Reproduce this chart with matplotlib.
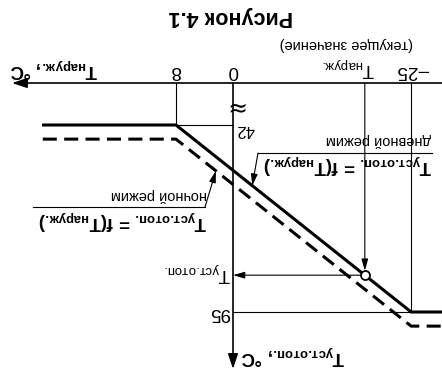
import numpy as np
import matplotlib
matplotlib.use('Agg')
import matplotlib.pyplot as plt
from matplotlib import font_manager as fm
from matplotlib.lines import Line2D

# ---------------- data ----------------
t_out_day = [26.8, 8, -25, -29.4]        # outdoor temperature, °C
t_set_day = [42, 42, 95, 95]             # heating set-point, day mode
t_out_night = [26.7, 8, -25, -29.4]
t_set_night = [46, 46, 99, 99]           # heating set-point, night mode
x_ticks = [8, 0, -25]
x_tick_labels = ['8', '0', '–25']
y_ticks = [42, 95]
y_tick_labels = ['42', '95']
t_out_current = -18.5
t_day_pointer = -2.7
t_night_pointer = 2.4


def pick(names):
    for n in names:
        try:
            fm.findfont(fm.FontProperties(family=n), fallback_to_default=False)
            return n
        except Exception:
            pass
    return 'DejaVu Sans'


FONT = pick(['Liberation Sans Narrow', 'Liberation Sans', 'Arial'])
WIDE = pick(['Liberation Sans', 'Arial'])
plt.rcParams['font.family'] = [FONT, 'DejaVu Sans']
plt.rcParams['mathtext.default'] = 'regular'

W, H = 442, 374
fig = plt.figure(figsize=(W / 100, H / 100), dpi=100)
ax = fig.add_axes([0, 0, 1, 1])
ax.set_axis_off()

# scales (the reference is drawn rotated by 180 degrees)
X0, SX = 233, 57 / 8
Y42, SY = 125, 187 / 53
x_left = X0 / SX
x_right = -(W - X0) / SX
ax.set_xlim(x_left, x_right)
ax.set_ylim(42 + (H - Y42) / SY, 42 - Y42 / SY)

y_axis_val = 42 - (Y42 - 83) / SY      # level of the horizontal axis
x_tip = (X0 - 12) / SX                 # arrow tip of T axis
y_tip = 42 + (369 - Y42) / SY          # arrow tip of set-point axis
y_ticklab = 42 - (Y42 - 70) / SY


def F(px, py):
    return (px / W, 1 - py / H)


k = 'black'
axis_arrow = dict(arrowstyle='-|>,head_length=0.45,head_width=0.15',
                  color=k, lw=1.2, shrinkA=0, shrinkB=0, mutation_scale=20)
small_arrow = dict(arrowstyle='-|>,head_length=0.35,head_width=0.1',
                   color=k, lw=0.8, shrinkA=0, shrinkB=0, mutation_scale=20)

# axes
ax.annotate('', xy=(x_tip, y_axis_val), xytext=(x_right, y_axis_val),
            arrowprops=axis_arrow)
ax.annotate('', xy=(0, y_tip), xytext=(0, y_axis_val), arrowprops=axis_arrow)

# guide lines
ax.plot([8, 8], [y_axis_val, 42], color=k, lw=0.8)
ax.plot([0, 8], [42, 42], color=k, lw=0.8)
ax.plot([-25, -25], [y_axis_val, 95], color=k, lw=0.8)
ax.plot([0, -25], [95, 95], color=k, lw=0.8)

# curves
ax.plot(t_out_day, t_set_day, color=k, lw=2.2, solid_capstyle='butt')
ax.plot(t_out_night, t_set_night, color=k, lw=2.2,
        linestyle=(0, (4.6, 2.4)), dash_capstyle='butt')

# current point
v_cur = float(np.interp(-t_out_current, [-t for t in t_out_day], t_set_day))
p_cur = dict(small_arrow)
p_cur['shrinkB'] = 3.2
ax.annotate('', xy=(t_out_current, v_cur), xytext=(t_out_current, y_axis_val),
            arrowprops=p_cur)
p_cur2 = dict(small_arrow)
p_cur2['shrinkA'] = 3.2
ax.annotate('', xy=(0, v_cur), xytext=(t_out_current, v_cur), arrowprops=p_cur2)
ax.plot([t_out_current], [v_cur], 'o', ms=6.5, mfc='white', mec=k, mew=1.3, zorder=5)

# tick labels
for t, lab in zip(x_ticks, x_tick_labels):
    ax.text(t if lab != '–25' else t - 0.3, y_ticklab, lab, rotation=180,
            ha='center', va='center', fontsize=13.5)
ax.text(*F(245, 129), y_tick_labels[0], rotation=180, ha='center', va='center',
        fontsize=12, transform=fig.transFigure)
ax.text(*F(220, 312), y_tick_labels[1], rotation=180, ha='center', va='center',
        fontsize=13.5, transform=fig.transFigure)

# axis break
ax.text(*F(234, 105), '≈', rotation=180, ha='center', va='center',
        fontsize=17, family='DejaVu Sans', transform=fig.transFigure)

# labels (subscripts via mathtext; "\!" cancels mathtext punctuation spacing)
T_out = r'Т$_{наруж.\!}$'
T_set = r'Т$_{уст.\!отоп.\!}$'
ax.text(*F(231, 16), 'Рисунок 4.1', rotation=180, ha='center', va='center',
        fontsize=15.5, weight='bold', family=WIDE, transform=fig.transFigure)
ax.text(*F(346, 44), '(текущее значение)', rotation=180, ha='center', va='center',
        fontsize=10.5, transform=fig.transFigure)
ax.text(*F(348, 67), T_out, rotation=180, ha='center', va='center',
        fontsize=13.5, transform=fig.transFigure)
ax.text(*F(54, 68), T_out + ', °С', rotation=180, ha='center', va='center',
        fontsize=13.5, weight='bold', transform=fig.transFigure)
ax.text(*F(197, 272), T_set, rotation=180, ha='center', va='center',
        fontsize=13.5, transform=fig.transFigure)
ax.text(*F(293, 355), T_set + ', °С', rotation=180, ha='center', va='center',
        fontsize=13.5, weight='bold', transform=fig.transFigure)

# day annotation
formula = T_set + ' = f(' + T_out + ')'
ax.text(*F(431, 140), 'дневной режим', rotation=180, ha='right', va='center',
        fontsize=10.5, transform=fig.transFigure)
ax.text(*F(432, 164), formula, rotation=180, ha='right', va='center',
        fontsize=13.5, weight='bold', transform=fig.transFigure)
fig.add_artist(Line2D([258 / W, 432 / W], [1 - 153 / H, 1 - 153 / H],
                      color=k, lw=0.8))
v_day = float(np.interp(-t_day_pointer, [-t for t in t_out_day], t_set_day))
ax.annotate('', xy=(t_day_pointer, v_day), xytext=F(258, 153),
            textcoords='figure fraction', arrowprops=small_arrow)

# night annotation
ax.text(*F(207, 195), 'ночной режим', rotation=180, ha='right', va='center',
        fontsize=10.5, transform=fig.transFigure)
ax.text(*F(207, 220), formula, rotation=180, ha='right', va='center',
        fontsize=13.5, weight='bold', transform=fig.transFigure)
fig.add_artist(Line2D([33 / W, 205 / W], [1 - 207 / H, 1 - 207 / H],
                      color=k, lw=0.8))
v_night = float(np.interp(-t_night_pointer, [-t for t in t_out_night], t_set_night))
ax.annotate('', xy=(t_night_pointer, v_night), xytext=F(205, 207),
            textcoords='figure fraction', arrowprops=small_arrow)

fig.savefig('out.png', dpi=100)
